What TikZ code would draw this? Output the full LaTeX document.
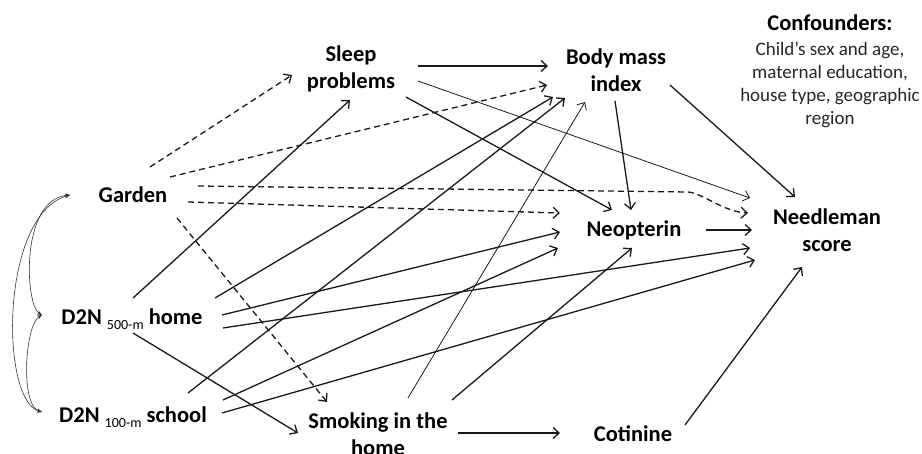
\documentclass[tikz,border=0pt]{standalone}
\usepackage{fontspec}
\setmainfont{Carlito}
\usetikzlibrary{arrows.meta}
\newcommand{\subtxt}[1]{\raisebox{-5pt}{\fontsize{14}{14}\selectfont\mdseries #1}}
\begin{document}
\begin{tikzpicture}[x=1pt,y=-1pt,
  lbl/.style={font=\fontsize{22.5}{27}\selectfont\bfseries, align=center, inner sep=0pt},
  conftitle/.style={font=\fontsize{22.5}{27}\selectfont\bfseries, align=center, inner sep=0pt},
  confbody/.style={font=\fontsize{19}{23}\selectfont, align=center, inner sep=0pt, text=black!85},
  arr/.style={line width=1.3pt, draw=black!90, -{Straight Barb[length=6pt,width=11pt]}},
  thinarr/.style={arr, line width=0.8pt},
  dasharr/.style={arr, dash pattern=on 6pt off 4pt},
  corr/.style={line width=0.6pt, draw=black!80, {Stealth[length=5pt,width=4pt]}-{Stealth[length=5pt,width=4pt]}}
]
\useasboundingbox (0,0) rectangle (922,453);

\node[lbl] (sleep) at (351,69) {Sleep\\problems};
\node[lbl] (bmi) at (616,70) {Body mass\\index};
\node[lbl] (garden) at (133,195) {Garden};
\node[lbl] (neop) at (634,230) {Neopterin};
\node[lbl] (needle) at (827,230) {Needleman\\score};
\node[lbl] (home) at (132,319) {D2N \subtxt{500-m} home};
\node[lbl] (school) at (133,417) {D2N \subtxt{100-m} school};
\node[lbl] (smoking) at (378,434) {Smoking in the\\home};
\node[lbl] (cotinine) at (633,434) {Cotinine};
\node[conftitle] (conft) at (830,23) {Confounders:};
\node[confbody] (confx) at (830,85) {Child’s sex and age,\\maternal education,\\house type, geographic\\region};

% from sleep problems
\draw[arr] ([shift={(67,-3)}]sleep.center) -- ([shift={(-68,-4)}]bmi.center);
\draw[arr] ([shift={(55,28)}]sleep.center) -- ([shift={(-22,-20)}]neop.center);
\draw[thinarr] ([shift={(67,12)}]sleep.center) -- ([shift={(-77,-32)}]needle.center);
% from BMI
\draw[arr] ([shift={(54,15)}]bmi.center) -- ([shift={(-32,-33)}]needle.center);
\draw[arr] ([shift={(-1,31)}]bmi.center) -- ([shift={(-3,-20)}]neop.center);
% neopterin
\draw[arr] ([shift={(72,0)}]neop.center) -- ([shift={(-75,0)}]needle.center);
% garden (dashed)
\draw[dasharr] ([shift={(17,-28)}]garden.center) -- ([shift={(-59,6)}]sleep.center);
\draw[dasharr] ([shift={(37,-18)}]garden.center) -- ([shift={(-69,15)}]bmi.center);
\draw[dasharr] ([shift={(65,-9)}]garden.center) -- ++(490,6) .. controls +(14,1) and +(-24,-1) .. ([shift={(-79,-17)}]needle.center);
\draw[dasharr] ([shift={(55,7)}]garden.center) -- ([shift={(-74,-17)}]neop.center);
\draw[dasharr] ([shift={(44,23)}]garden.center) -- ([shift={(-51,-32)}]smoking.center);
% home
\draw[arr] ([shift={(1,-21)}]home.center) -- ([shift={(-1,31)}]sleep.center);
\draw[arr] ([shift={(83,-21)}]home.center) -- ([shift={(-63,27)}]bmi.center);
\draw[arr] ([shift={(90,-4)}]home.center) -- ([shift={(-74,2)}]neop.center);
\draw[arr] ([shift={(91,9)}]home.center) -- ([shift={(-77,18)}]needle.center);
\draw[arr] ([shift={(1,14)}]home.center) -- ([shift={(-80,-1)}]smoking.center);
% school
\draw[arr] ([shift={(55,-24)}]school.center) -- ([shift={(-51,28)}]bmi.center);
\draw[arr] ([shift={(90,-17)}]school.center) -- ([shift={(-76,18)}]neop.center);
\draw[arr] ([shift={(89,-4)}]school.center) -- ([shift={(-72,30)}]needle.center);
% smoking
\draw[thinarr] ([shift={(30,-36)}]smoking.center) -- ([shift={(-31,32)}]bmi.center);
\draw[arr] ([shift={(74,-34)}]smoking.center) -- ([shift={(-2,18)}]neop.center);
\draw[arr] ([shift={(80,-1)}]smoking.center) -- ([shift={(-73,-1)}]cotinine.center);
% cotinine
\draw[arr] ([shift={(52,-9)}]cotinine.center) -- ([shift={(-25,37)}]needle.center);

% correlations on the left
\draw[corr] ([shift={(-90,-4)}]home.center) .. controls +(-17,-10) and +(-50,5) .. ([shift={(-63,0)}]garden.center);
\draw[corr] ([shift={(-90,-4)}]home.center) .. controls +(-17,10) and +(-22,-7) .. ([shift={(-91,-5)}]school.center);
\draw[corr] ([shift={(-63,0)}]garden.center) .. controls +(-70,20) and +(-42,-12) .. ([shift={(-91,-5)}]school.center);
\end{tikzpicture}
\end{document}
